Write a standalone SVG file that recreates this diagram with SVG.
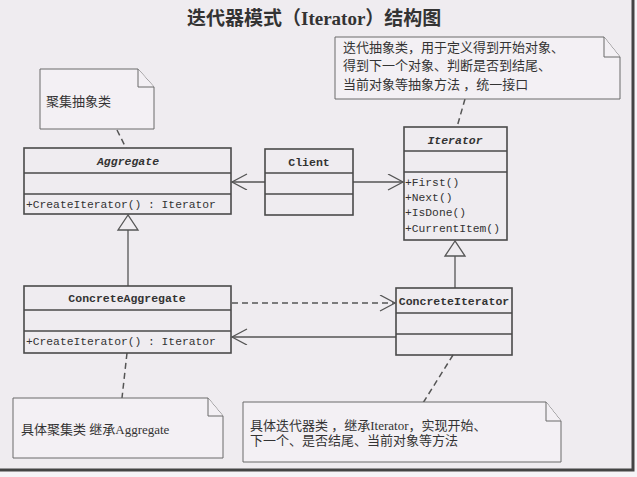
<svg xmlns="http://www.w3.org/2000/svg" width="637" height="477" viewBox="0 0 637 477">
<defs>
<style>
.bx{fill:none;stroke:#4a4a4a;stroke-width:1.6}
.ln{fill:none;stroke:#555;stroke-width:1.3}
.dl{fill:none;stroke:#555;stroke-width:1.5;stroke-dasharray:6 4}
.nt{fill:#f3f0f4;stroke:#6a6a6a;stroke-width:1}
.cn{font-family:"Liberation Mono","Noto Sans CJK SC",monospace;font-size:11.5px;fill:#333;font-weight:bold;text-anchor:middle}
.it{font-style:italic}
.mt{font-family:"Liberation Mono","Noto Sans CJK SC",monospace;font-size:11.3px;fill:#333}
.tx{font-family:"Liberation Serif","Noto Sans CJK SC",serif;font-size:13px;fill:#333}
.tt{font-family:"Liberation Serif","Noto Sans CJK SC",serif;font-size:19px;font-weight:bold;fill:#333}
</style>
<marker id="open" markerWidth="18" markerHeight="18" refX="16" refY="8" orient="auto" markerUnits="userSpaceOnUse">
<path d="M1,0 L16,8 L1,16" fill="none" stroke="#555" stroke-width="1.3"/>
</marker>
</defs>
<rect x="0" y="0" width="637" height="477" fill="#f6f4f7"/>
<rect x="0" y="0" width="634" height="470" fill="#efecf0"/>
<path d="M633,0 V470 H0" fill="none" stroke="#444" stroke-width="3"/>

<text class="tt" x="187" y="25">迭代器模式（Iterator）结构图</text>

<g id="connectors">
<line class="ln" x1="265" y1="182" x2="232" y2="182" marker-end="url(#open)"/>
<line class="ln" x1="353" y1="182" x2="403" y2="182" marker-end="url(#open)"/>
<line class="ln" x1="128" y1="230" x2="128" y2="286"/>
<path d="M128,215 L118,230 L138,230 Z" fill="#efecf0" stroke="#555" stroke-width="1.3"/>
<line class="ln" x1="455" y1="256" x2="455" y2="288"/>
<path d="M455,241 L445,256 L465,256 Z" fill="#efecf0" stroke="#555" stroke-width="1.3"/>
<line class="dl" x1="232" y1="303" x2="395" y2="303" marker-end="url(#open)"/>
<line class="ln" x1="396" y1="337" x2="232" y2="337" marker-end="url(#open)"/>
<line class="dl" x1="117" y1="130" x2="126" y2="148"/>
<line class="dl" x1="465" y1="99" x2="457" y2="127"/>
<line class="dl" x1="127" y1="353" x2="122" y2="398"/>
<line class="dl" x1="453" y1="355" x2="423" y2="403"/>
</g>

<g id="note-aggregate">
<path class="nt" d="M40,69 H138 L154,87 V129 H40 Z"/>
<path class="nt" d="M138,69 V87 H154" fill="none"/>
<text class="tx" x="46" y="106">聚集抽象类</text>
</g>

<g id="note-iterator">
<path class="nt" d="M335,37 H604 L620,57 V99 H335 Z"/>
<path class="nt" d="M604,37 V57 H620" fill="none"/>
<text class="tx" x="343" y="52">迭代抽象类，用于定义得到开始对象、</text>
<text class="tx" x="343" y="70">得到下一个对象、判断是否到结尾、</text>
<text class="tx" x="343" y="89">当前对象等抽象方法 ，统一接口</text>
</g>

<g id="aggregate">
<rect class="bx" x="24" y="148" width="207" height="66"/>
<line class="bx" x1="24" y1="173" x2="231" y2="173"/>
<line class="bx" x1="24" y1="194" x2="231" y2="194"/>
<text class="cn it" x="128" y="165">Aggregate</text>
<text class="mt" x="26" y="208">+CreateIterator() : Iterator</text>
</g>

<g id="client">
<rect class="bx" x="265" y="149" width="88" height="66"/>
<line class="bx" x1="265" y1="173" x2="353" y2="173"/>
<line class="bx" x1="265" y1="194" x2="353" y2="194"/>
<text class="cn" x="309" y="166">Client</text>
</g>

<g id="iterator">
<rect class="bx" x="404" y="127" width="103" height="113"/>
<line class="bx" x1="404" y1="151" x2="507" y2="151"/>
<line class="bx" x1="404" y1="172" x2="507" y2="172"/>
<text class="cn it" x="455" y="144">Iterator</text>
<text class="mt" x="405" y="186">+First()</text>
<text class="mt" x="405" y="201">+Next()</text>
<text class="mt" x="405" y="216">+IsDone()</text>
<text class="mt" x="405" y="232">+CurrentItem()</text>
</g>

<g id="concrete-aggregate">
<rect class="bx" x="24" y="286" width="207" height="67"/>
<line class="bx" x1="24" y1="310" x2="231" y2="310"/>
<line class="bx" x1="24" y1="331" x2="231" y2="331"/>
<text class="cn" x="127" y="302">ConcreteAggregate</text>
<text class="mt" x="26" y="345">+CreateIterator() : Iterator</text>
</g>

<g id="concrete-iterator">
<rect class="bx" x="396" y="288" width="116" height="67"/>
<line class="bx" x1="396" y1="313" x2="512" y2="313"/>
<line class="bx" x1="396" y1="334" x2="512" y2="334"/>
<text class="cn" x="454" y="305">ConcreteIterator</text>
</g>

<g id="note-concrete-aggregate">
<path class="nt" d="M13,398 H208 L223,416 V458 H13 Z"/>
<path class="nt" d="M208,398 V416 H223" fill="none"/>
<text class="tx" x="21" y="434">具体聚集类 继承Aggregate</text>
</g>

<g id="note-concrete-iterator">
<path class="nt" d="M243,402 H546 L561,421 V462 H243 Z"/>
<path class="nt" d="M546,402 V421 H561" fill="none"/>
<text class="tx" x="250" y="430">具体迭代器类 ，继承Iterator，实现开始、</text>
<text class="tx" x="250" y="445">下一个、是否结尾、当前对象等方法</text>
</g>
</svg>
